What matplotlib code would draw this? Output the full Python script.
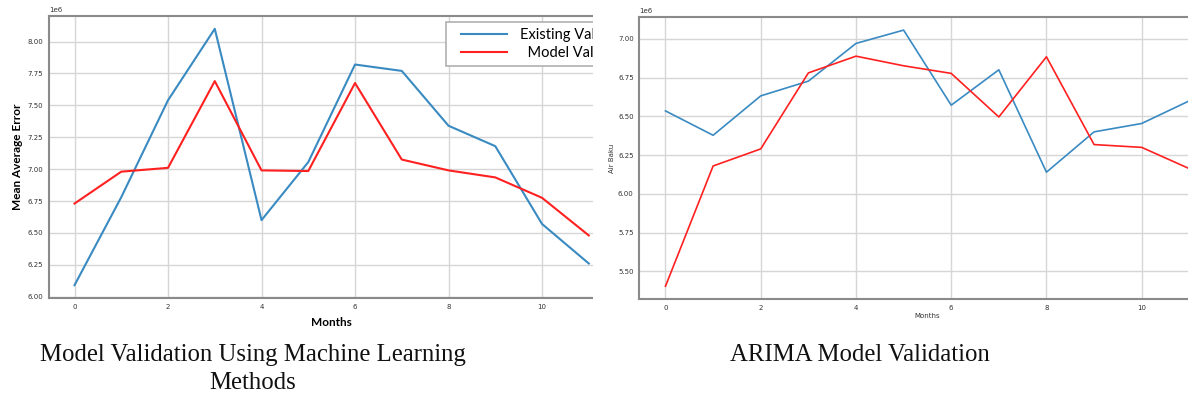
import matplotlib
matplotlib.use("Agg")
import matplotlib.pyplot as plt
from matplotlib.patches import Rectangle
from matplotlib.ticker import MultipleLocator
from matplotlib.legend_handler import HandlerLine2D
from matplotlib.lines import Line2D

# ---------------- data ----------------
months = list(range(12))
ml_existing = [6.09e6, 6.78e6, 7.54e6, 8.10e6, 6.60e6, 7.055e6, 7.82e6, 7.77e6, 7.34e6, 7.18e6, 6.57e6, 6.26e6]
ml_model = [6.73e6, 6.98e6, 7.01e6, 7.69e6, 6.99e6, 6.985e6, 7.675e6, 7.075e6, 6.99e6, 6.935e6, 6.775e6, 6.48e6]
arima_existing = [6.535e6, 6.378e6, 6.632e6, 6.727e6, 6.97e6, 7.056e6, 6.572e6, 6.80e6, 6.14e6, 6.40e6, 6.454e6, 6.60e6]
arima_model = [5.405e6, 6.18e6, 6.29e6, 6.78e6, 6.888e6, 6.826e6, 6.777e6, 6.496e6, 6.884e6, 6.318e6, 6.30e6, 6.163e6]
legend_labels = ["Existing Values", "  Model Values"]
caption_left = ["Model Validation Using Machine Learning", "Methods"]
caption_right = "ARIMA Model Validation"
xticks = [0, 2, 4, 6, 8, 10]

W, H = 1188, 403
fig = plt.figure(figsize=(W / 100, H / 100), dpi=100)

BLUE = "#3a8ac2"
RED = "#ff2020"
SPINE = "#8a8a8a"
GRID = "#d6d6d6"


def px_axes(l, t, r, b):
    return [l / W, (H - b) / H, (r - l) / W, (b - t) / H]


def style(ax):
    ax.set_xticks(xticks)
    ax.yaxis.set_major_locator(MultipleLocator(0.25e6))
    ax.grid(True, color=GRID, linewidth=1.0)
    ax.set_axisbelow(True)
    for s in ax.spines.values():
        s.set_color(SPINE)
        s.set_linewidth(1.5)
    ax.tick_params(length=0, labelsize=5, pad=4, labelcolor="#333333")
    ax.yaxis.get_offset_text().set_fontsize(5)
    ax.yaxis.get_offset_text().set_color("#333333")
    ax.set_xlim(-0.55, 11.55)


# ---------------- left panel ----------------
axl = fig.add_axes(px_axes(48.8, 16, 614.5, 298), zorder=0)
l1, = axl.plot(months, ml_existing, color=BLUE, lw=1.5, label=legend_labels[0])
l2, = axl.plot(months, ml_model, color=RED, lw=1.5, label=legend_labels[1])
style(axl)
axl.set_ylabel("Mean Average Error", fontsize=8.5, fontweight="bold", family="Lato", labelpad=3)
axl.set_xlabel("Months", fontsize=8.5, fontweight="bold", family="Lato", labelpad=5)
hm = {Line2D: HandlerLine2D(xpad=0.65)}
leg = axl.legend(handles=[l1, l2], loc="upper left", bbox_to_anchor=(0.7016, 0.978),
                 prop={"family": "Lato", "size": 10.5}, handlelength=3.8, handletextpad=0.91,
                 borderpad=0.38, labelspacing=0.3, fancybox=False, framealpha=1,
                 edgecolor="#b0b0b0", borderaxespad=0, handler_map=hm)
leg.get_frame().set_linewidth(1.2)

# mask that crops the left panel
fig.add_artist(Rectangle((593 / W, 0), (639 - 593) / W, 1, transform=fig.transFigure,
                         facecolor="white", edgecolor="none", zorder=1))

# ---------------- right panel ----------------
axr = fig.add_axes(px_axes(639.3, 17.3, 1215.5, 299), zorder=2)
axr.plot(months, arima_existing, color=BLUE, lw=1.2)
axr.plot(months, arima_model, color=RED, lw=1.2)
style(axr)
axr.set_ylabel("Air Baku", fontsize=5, labelpad=2, color="#333333")
axr.set_xlabel("Months", fontsize=5, labelpad=2, color="#333333")

# ---------------- captions ----------------
for i, line in enumerate(caption_left):
    fig.text(253 / W, 1 - (355 + 28 * i) / H, line, ha="center", va="center",
             fontsize=17.8, family="Liberation Serif", color="#111111")
fig.text(860 / W, 1 - 355 / H, caption_right, ha="center", va="center",
         fontsize=17.8, family="Liberation Serif", color="#111111")

fig.savefig("out.png", dpi=100)
